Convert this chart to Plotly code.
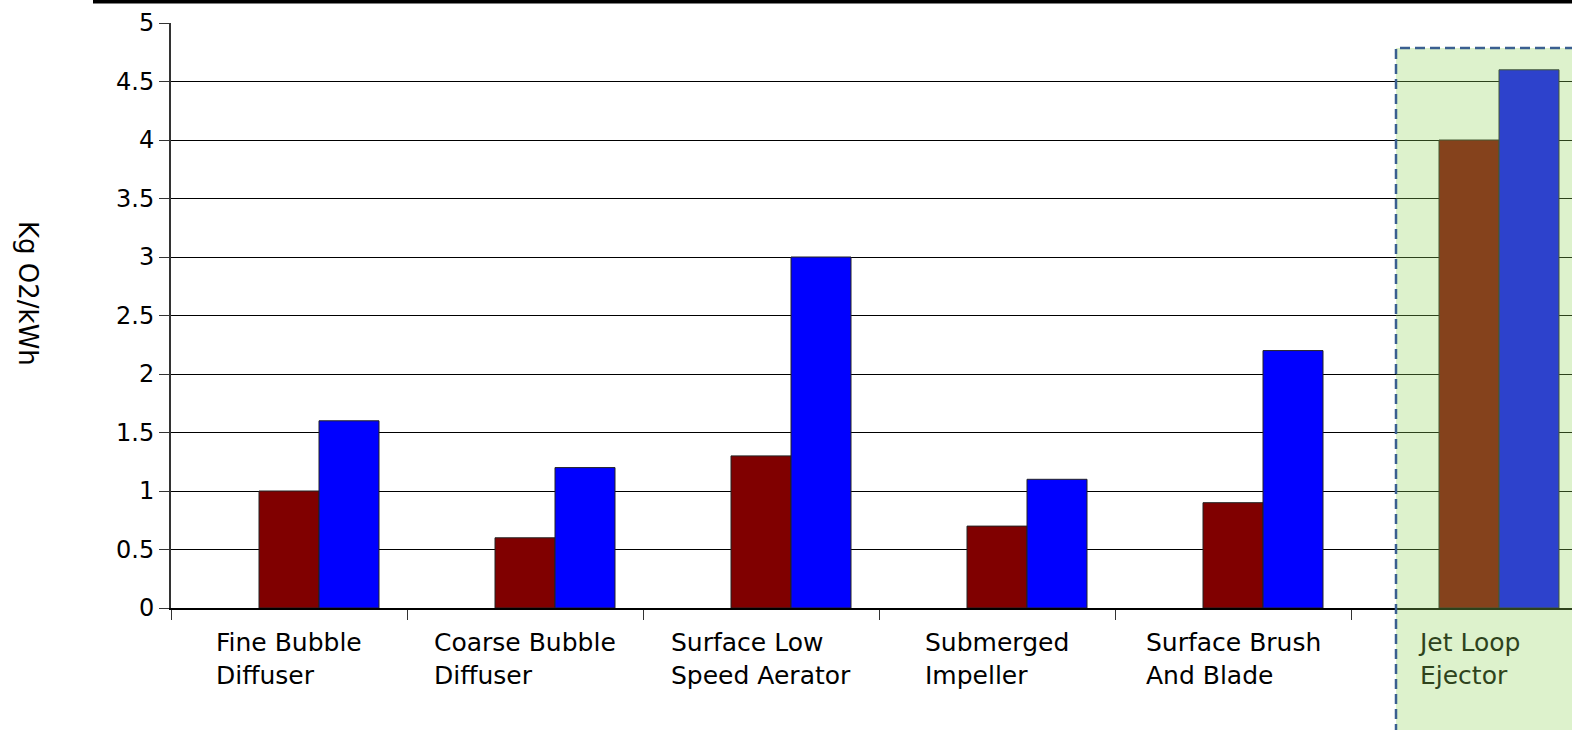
import plotly.graph_objects as go

# Oxygen transfer efficiency by aeration technology
categories = [
    "Fine Bubble<br>Diffuser",
    "Coarse Bubble<br>Diffuser",
    "Surface Low<br>Speed Aerator",
    "Submerged<br>Impeller",
    "Surface Brush<br>And Blade",
    "Jet Loop<br>Ejector",
]
low_values = [1.0, 0.6, 1.3, 0.7, 0.9, 4.0]
high_values = [1.6, 1.2, 3.0, 1.1, 2.2, 4.6]
y_ticks = [0, 0.5, 1, 1.5, 2, 2.5, 3, 3.5, 4, 4.5, 5]

W, H = 1572, 730
ML, MT, MB = 171, 23, 122
PW = W - ML
PH = H - MT - MB
CAT_PX = 236.0  # pixels per category
BAR_W = 60.0 / CAT_PX

FONT = "DejaVu Sans"
x_pos = list(range(len(categories)))
# tick marks sit on the boundaries between categories
x_bounds = [i - 0.5 for i in range(len(categories) + 1)]

fig = go.Figure()
fig.add_trace(go.Bar(
    x=x_pos, y=low_values, width=BAR_W, offset=-BAR_W / 2,
    marker=dict(color="#800000", line=dict(color="#222222", width=1)),
    showlegend=False, hoverinfo="y",
))
fig.add_trace(go.Bar(
    x=x_pos, y=high_values, width=BAR_W, offset=BAR_W / 2,
    marker=dict(color="#0000FF", line=dict(color="#222222", width=1)),
    showlegend=False, hoverinfo="y",
))


def px_x(px):
    return (px - ML) / PW


def px_y(py):
    return (MT + PH - py) / PH


# category labels, left-aligned lines centred under each group
annotations = []
for i, label in enumerate(categories):
    annotations.append(dict(
        x=i, xref="x", y=0, yref="paper", yanchor="top", xanchor="center",
        yshift=-18, text=label, showarrow=False, align="left",
        font=dict(family=FONT, size=25,
                  color="#2E431C" if i == len(categories) - 1 else "#000000"),
    ))

annotations.append(dict(
    x=px_x(28), xref="paper", y=px_y(293), yref="paper",
    xanchor="center", yanchor="middle", text="Kg O2/kWh", textangle=90,
    showarrow=False, font=dict(family=FONT, size=26, color="#000000"),
))

shapes = [
    # heavy rule across the top
    dict(type="rect", xref="paper", yref="paper",
         x0=px_x(93), x1=px_x(W + 20), y0=px_y(3.5), y1=px_y(-5),
         fillcolor="#000000", line=dict(width=0), layer="above"),
    # highlighted Jet Loop Ejector panel
    dict(type="rect", xref="paper", yref="paper",
         x0=px_x(1396), x1=px_x(W + 40), y0=px_y(H + 40), y1=px_y(48),
         fillcolor="rgba(146,213,89,0.31)",
         line=dict(color="#3A5F90", width=2.5, dash="10px,5px"),
         layer="above"),
]

fig.update_layout(
    width=W, height=H,
    margin=dict(l=ML, r=0, t=MT, b=MB, pad=0),
    paper_bgcolor="#FFFFFF", plot_bgcolor="#FFFFFF",
    barmode="overlay",
    annotations=annotations,
    shapes=shapes,
    xaxis=dict(
        range=[-0.5, -0.5 + PW / CAT_PX],
        tickvals=x_bounds, showticklabels=False,
        ticks="outside", ticklen=10, tickcolor="#333333", tickwidth=1,
        showgrid=False, zeroline=False,
        showline=True, linecolor="#000000", linewidth=1.5,
    ),
    yaxis=dict(
        range=[0, 5], tickvals=y_ticks,
        ticktext=[f"{v:g}" for v in y_ticks],
        ticks="outside", ticklen=10, tickcolor="#333333", tickwidth=1,
        tickfont=dict(family=FONT, size=24, color="#000000"),
        showgrid=True, gridcolor="#000000", gridwidth=1,
        zeroline=False,
        showline=True, linecolor="#333333", linewidth=2,
    ),
)

fig.write_html("out.html")
